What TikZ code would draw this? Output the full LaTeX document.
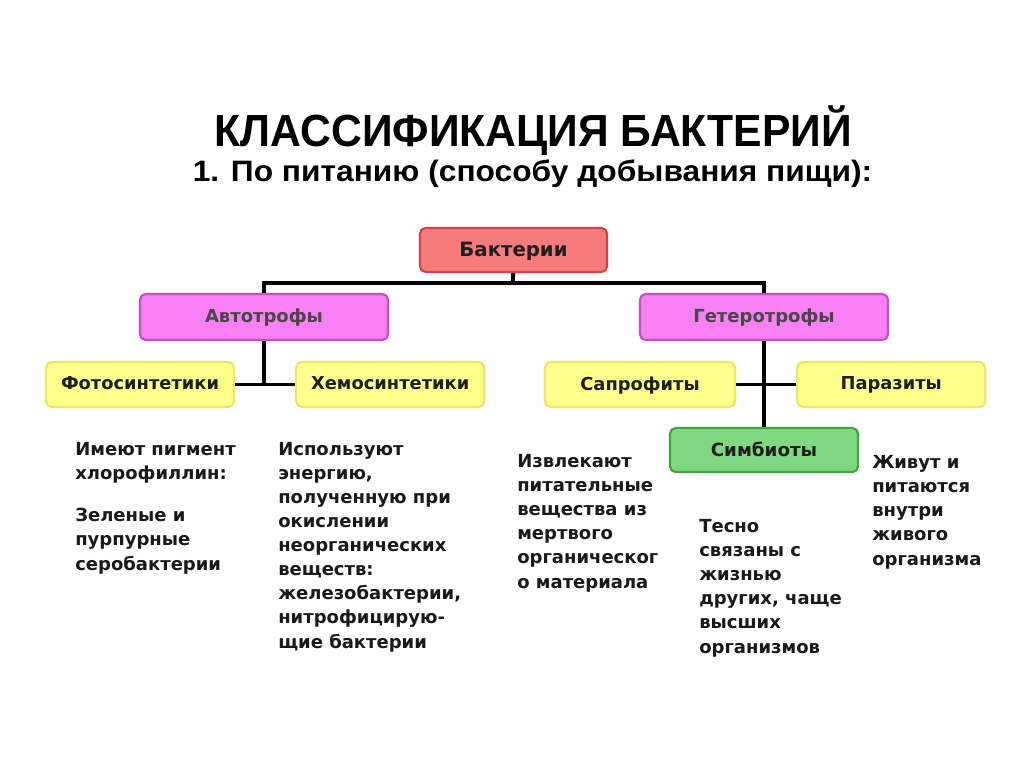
\documentclass[tikz,border=0pt]{standalone}
\usepackage{fontspec}
\setmainfont{DejaVu Sans}
\newfontfamily\titulo{Liberation Sans}
\usetikzlibrary{positioning}
\definecolor{rojoclaro}{RGB}{246,124,124}
\definecolor{rojooscuro}{RGB}{205,70,70}
\definecolor{rosa}{RGB}{248,128,244}
\definecolor{rosaoscuro}{RGB}{196,80,196}
\definecolor{amarillo}{RGB}{255,255,140}
\definecolor{amarillooscuro}{RGB}{232,232,100}
\definecolor{verde}{RGB}{128,216,128}
\definecolor{verdeoscuro}{RGB}{64,164,64}
\tikzset{
  caja/.style={
    rounded corners=4pt,
    line width=1.5pt,
    align=center,
    inner sep=2pt,
    text depth=0.3ex,
    text=black!88
  },
  raiz/.style={
    caja,
    draw=rojooscuro,
    fill=rojoclaro,
    minimum width=4.675cm,
    minimum height=1.1cm,
    font=\bfseries\fontsize{14}{16}\selectfont
  },
  grupo/.style={
    caja,
    draw=rosaoscuro,
    fill=rosa,
    minimum width=6.2cm,
    minimum height=1.15cm,
    text=black!72,
    font=\bfseries\fontsize{12.8}{14}\selectfont
  },
  tipo/.style={
    caja,
    draw=amarillooscuro,
    fill=amarillo,
    minimum width=4.7cm,
    minimum height=1.125cm,
    font=\bfseries\fontsize{12.7}{14}\selectfont
  },
  simbio/.style={
    caja,
    draw=verdeoscuro,
    fill=verde,
    minimum width=4.7cm,
    minimum height=1.1cm,
    font=\bfseries\fontsize{13}{14}\selectfont
  },
  nota/.style={
    anchor=base west,
    align=left,
    inner sep=0pt,
    text=black!90,
    font=\bfseries\fontsize{12.8}{17.1}\selectfont
  },
  linea/.style={
    line width=2.7pt,
    black
  }
}
\begin{document}
\begin{tikzpicture}[x=0.025cm,y=-0.025cm]
\useasboundingbox[fill=white] (0,0) rectangle (1024,767);
% titulo
\node[anchor=base,inner sep=0pt] (tit) at (533.5,147)
  {\titulo\bfseries\fontsize{32}{34}\selectfont\resizebox{15.93cm}{\height}{КЛАССИФИКАЦИЯ БАКТЕРИЙ}};
\node[anchor=base,inner sep=0pt] (subtit) at (532.5,182)
  {\titulo\bfseries\fontsize{21}{24}\selectfont\resizebox{16.98cm}{\height}{1. По питанию (способу добывания пищи):}};
% cajas
\node[raiz] (bact) at (513.5,250) {Бактерии};
\node[grupo] (auto) at (264,317) {Автотрофы};
\node[grupo] (hetero) at (764,317) {Гетеротрофы};
\node[tipo] (foto) at (140,384.5) {Фотосинтетики};
\node[tipo,right=1.5cm of foto] (quimio) {Хемосинтетики};
\node[tipo,minimum width=4.75cm] (sapro) at (640,384.5) {Сапрофиты};
\node[tipo,right=1.5cm of sapro] (parasit) {Паразиты};
\node[simbio] (simb) at (764,450) {Симбиоты};
% lineas
\coordinate (rama) at (513,283);
\draw[linea] (bact) -- (rama);
\draw[linea] (auto.north) |- (rama) -| (hetero.north);
\draw[linea] (auto.south) -- (auto.south |- foto.east);
\draw[linea] (foto.east) -- (quimio.west);
\draw[linea] (hetero.south) -- (simb.north);
\draw[linea] (sapro.east) -- (parasit.west);
% textos (anclados en la ultima linea)
\node[nota] (n1) at (75,570) {Имеют пигмент\\хлорофиллин:\\[0.47cm]Зеленые и\\пурпурные\\серобактерии};
\node[nota] (n2) at (278,648) {Используют\\энергию,\\полученную при\\окислении\\неорганических\\веществ:\\железобактерии,\\нитрофицирую-\\щие бактерии};
\node[nota] (n3) at (517,588) {Извлекают\\питательные\\вещества из\\мертвого\\органическог\\о материала};
\node[nota] (n4) at (699,653) {Тесно\\связаны с\\жизнью\\других, чаще\\высших\\организмов};
\node[nota] (n5) at (872,565) {Живут и\\питаются\\внутри\\живого\\организма};
\end{tikzpicture}
\end{document}
